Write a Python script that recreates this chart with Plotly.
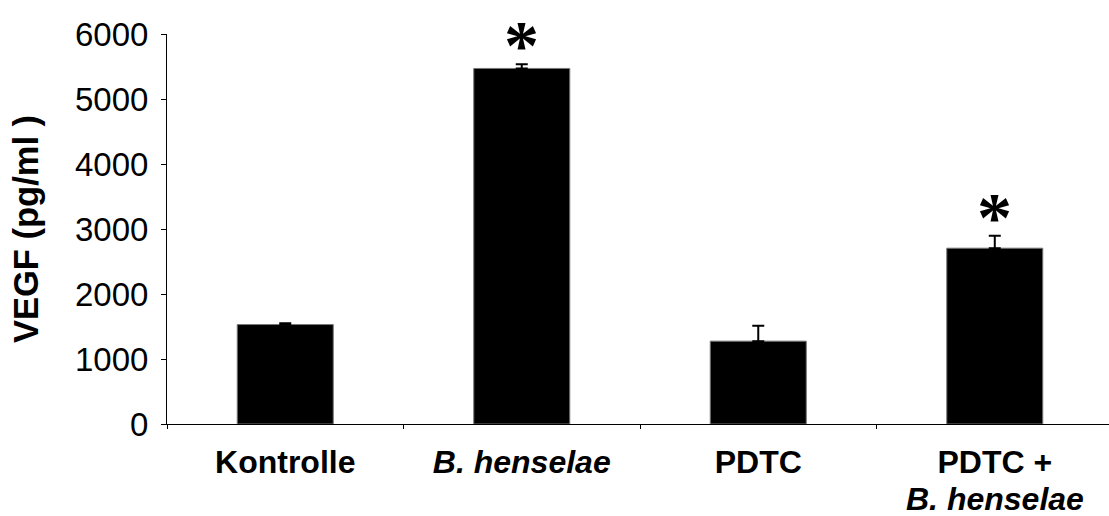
import plotly.graph_objects as go

categories = ["Kontrolle", "B. henselae", "PDTC", "PDTC + B. henselae"]
tick_labels = ["Kontrolle", "<i>B. henselae</i>", "PDTC", "PDTC +"]
tick_second_lines = ["", "", "", "<i>B. henselae</i>"]
values = [1530, 5470, 1275, 2705]
errors = [20, 65, 235, 190]
significant = [False, True, False, True]

fig = go.Figure()
fig.add_trace(go.Bar(
    x=categories, y=values,
    marker=dict(color="black", line=dict(color="#777777", width=1)),
    error_y=dict(type="data", symmetric=False, array=errors,
                 arrayminus=[0] * len(values), color="black",
                 thickness=2, width=6),
    width=0.406,
))

for c, v, e, s in zip(categories, values, errors, significant):
    if s:
        fig.add_annotation(x=c, y=v + e, text="*", showarrow=False,
                           yanchor="bottom", yshift=-22,
                           font=dict(family="Liberation Serif", size=70,
                                     weight="bold", color="black"))

for c, t in zip(categories, tick_second_lines):
    if t:
        fig.add_annotation(x=c, xref="x", y=0, yref="paper", text=t,
                           showarrow=False, yanchor="middle", yshift=-75,
                           font=dict(family="Liberation Sans", size=32,
                                     weight="bold", color="black"))

fig.update_layout(
    width=1109, height=516,
    margin=dict(l=167, r=0, t=34, b=92, autoexpand=False),
    paper_bgcolor="white", plot_bgcolor="white",
    showlegend=False,
    font=dict(family="Liberation Sans", color="black"),
    xaxis=dict(
        type="category", range=[-0.5, 3.483], automargin=False,
        tickvals=categories, ticktext=tick_labels,
        showline=True, linecolor="black", linewidth=1,
        ticks="outside", tickson="boundaries", ticklen=4, tickcolor="black",
        tickfont=dict(size=32, weight="bold", family="Liberation Sans"),
        ticklabelstandoff=10,
        showgrid=False, zeroline=False,
    ),
    yaxis=dict(
        range=[0, 6000], tickvals=[0, 1000, 2000, 3000, 4000, 5000, 6000],
        automargin=False,
        showline=True, linecolor="black", linewidth=1,
        ticks="outside", ticklen=5, tickcolor="black",
        tickfont=dict(size=33, family="Liberation Sans"),
        ticklabelstandoff=6,
        showgrid=False, zeroline=False,
        title=dict(text="VEGF (pg/ml )", font=dict(size=34.5, weight="bold"), standoff=25),
    ),
)

fig.write_html("out.html")
